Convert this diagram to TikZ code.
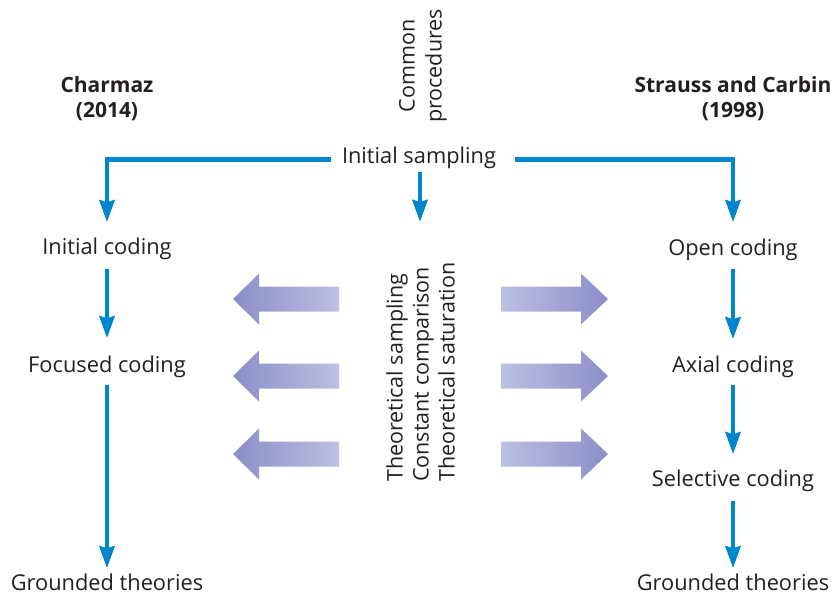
\documentclass[tikz,border=0pt]{standalone}
\usepackage{fontspec}
\setmainfont{Open Sans}
\usetikzlibrary{arrows.meta,calc}
\definecolor{flowblue}{RGB}{0,133,207}
\definecolor{txt}{RGB}{35,31,32}
\definecolor{arrlight}{RGB}{188,192,227}
\definecolor{arrdark}{RGB}{139,142,198}
\begin{document}
\begin{tikzpicture}[x=1pt,y=-1pt,
  lbl/.style={font=\fontsize{21.8}{26}\selectfont, text=txt, inner sep=0pt, anchor=base},
  head/.style={font=\fontsize{21}{25}\selectfont\bfseries, text=txt, inner sep=0pt, align=center, anchor=north},
  flow/.style={draw=flowblue, line width=4.7pt, -{Stealth[length=22pt,width=15pt,inset=2pt]}}
]
\useasboundingbox (0,0) rectangle (835,595);

% headings
\node[head] (hl) at (107,76) {Charmaz\\(2014)};
\node[head] (hr) at (733,76) {Strauss and Carbin\\(1998)};
\node[font=\fontsize{21.5}{27}\selectfont, text=txt, inner sep=0pt, align=center, rotate=90] (cp) at (423,66) {Common\\procedures};

% left column
\node[lbl] (samp) at (419,163) {Initial sampling};
\node[lbl] (ic) at (107,254) {Initial coding};
\node[lbl] (fc) at (107,372) {Focused coding};
\node[lbl] (gl) at (107,590) {Grounded theories};

% right column
\node[lbl] (oc) at (733,255) {Open coding};
\node[lbl] (ac) at (733,372) {Axial coding};
\node[lbl] (sc) at (733,486) {Selective coding};
\node[lbl] (gr) at (733,590) {Grounded theories};

% middle rotated text
\node[font=\fontsize{21.5}{26}\selectfont, text=txt, inner sep=0pt, align=left, rotate=90, anchor=north west] (mid) at (386,482)
  {Theoretical sampling\\Constant comparison\\Theoretical saturation};

\coordinate (midtip) at (420,222);

% connectors
\draw[flow, shorten <=11pt, shorten >=15pt] ([yshift=-2.5pt]samp.west) -| (ic.north);
\draw[flow, shorten <=19pt, shorten >=16pt] ([yshift=-2.5pt]samp.east) -| (oc.north);
\draw[flow, shorten <=4pt] (samp.south -| midtip) -- (midtip);

\draw[flow, shorten <=10pt, shorten >=17pt] (ic.south) -- (fc.north);
\draw[flow, shorten <=8pt, shorten >=5pt] (fc.south) -- (gl.north);

\draw[flow, shorten <=9pt, shorten >=16pt] (oc.south) -- (ac.north);
\draw[flow, shorten <=8pt, shorten >=15pt] (ac.south) -- (sc.north);
\draw[flow, shorten <=10pt, shorten >=5pt] (sc.south) -- (gr.north);

% big shaded arrows
\foreach \yc in {299,376,454}{
  \shade[left color=arrdark, right color=arrlight]
    (233,\yc) -- (259,\yc-25.5) -- (259,\yc-12.5) -- (339,\yc-12.5)
    -- (339,\yc+12.5) -- (259,\yc+12.5) -- (259,\yc+25.5) -- cycle;
  \shade[left color=arrlight, right color=arrdark]
    (608,\yc) -- (581,\yc-25.5) -- (581,\yc-12.5) -- (501,\yc-12.5)
    -- (501,\yc+12.5) -- (581,\yc+12.5) -- (581,\yc+25.5) -- cycle;
}
\end{tikzpicture}
\end{document}
